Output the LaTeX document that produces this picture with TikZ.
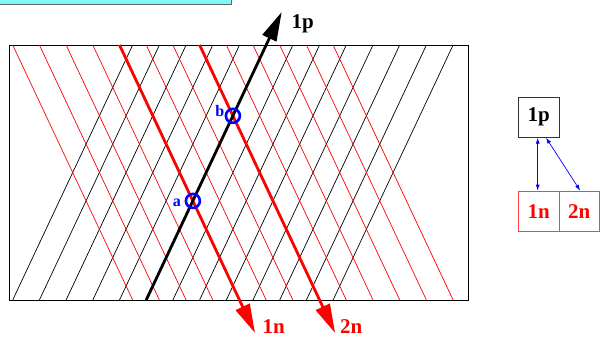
\documentclass[tikz,border=0pt]{standalone}
\usepackage{fontspec}
\setmainfont{Liberation Serif}
\usetikzlibrary{arrows.meta}
\definecolor{boxcyan}{RGB}{128,248,248}
\definecolor{linered}{RGB}{255,0,0}
\begin{document}
\begin{tikzpicture}[x=1pt,y=-1pt,
  thinblack/.style={black,line width=0.7pt},
  thinred/.style={linered,line width=0.7pt},
  bigarrow/.style={line width=2.8pt,-{Triangle[length=29pt,width=15pt]}},
  ring/.style={circle,draw=blue,line width=2.6pt,minimum size=14pt,inner sep=0pt},
  lbl/.style={font=\bfseries\fontsize{21}{21}\selectfont,inner sep=0pt,anchor=base west},
  small/.style={font=\bfseries\fontsize{16}{16}\selectfont,text=blue,inner sep=0pt},
  pbox/.style={draw=black!80,line width=0.8pt,minimum width=41pt,minimum height=40pt,inner sep=0pt,font=\bfseries\fontsize{21}{21}\selectfont},
  nbox/.style={draw=linered!75,line width=0.8pt,minimum width=40.5pt,minimum height=40.5pt,inner sep=0pt,text=linered,font=\bfseries\fontsize{21}{21}\selectfont},
  biarrow/.style={blue,line width=0.7pt,{Latex[length=6pt,width=4pt]}-{Latex[length=6pt,width=4pt]}}]
\useasboundingbox (0,0) rectangle (601,337);
% cyan box at top left
\draw[fill=boxcyan,draw=black!60,line width=0.8pt] (-3,-3) rectangle (231,4);
% frame
\draw[black,line width=0.9pt] (9.5,45) rectangle (468.5,300);
% thin lines
\foreach \k in {0,1,2,3,4,6,7,8,9,10,11,12}
  \draw[thinblack] ({12.7+26.7*\k},300) -- ({132.7+26.7*\k},45);
\foreach \k in {0,1,2,3,5,6,8,9,10,11,12}
  \draw[thinred] ({12.7+26.7*\k},45) -- ({132.7+26.7*\k},300);
% thick arrows
\coordinate (pstart) at (146.2,300);
\coordinate (ptip) at (281.7,12);
\coordinate (n1start) at (119.5,45);
\coordinate (n1tip) at (255,333);
\coordinate (n2start) at (199.6,45);
\coordinate (n2tip) at (335.1,333);
\draw[bigarrow,linered] (n1start) -- (n1tip);
\draw[bigarrow,linered] (n2start) -- (n2tip);
\draw[bigarrow,black] (pstart) -- (ptip);
% labels
\node[lbl] (l1p) at (291.5,28.3) {1p};
\node[lbl,text=linered] (l1n) at (262.5,333.3) {1n};
\node[lbl,text=linered] (l2n) at (340,333.3) {2n};
% rings
\node[ring] (ca) at (192.9,200.9) {};
\node[ring] (cb) at (232.9,115.8) {};
\node[small,anchor=base east] (la) at (181,206.5) {a};
\node[small,anchor=base east] (lb) at (224.5,116.5) {b};
% right diagram
\node[pbox] (p1) at (538.7,117.3) {1p};
\node[nbox] (n1) at (538.7,211.3) {1n};
\node[nbox] (n2) at (579.2,211.3) {2n};
\draw[biarrow] ([xshift=-1pt]p1.south) -- ([xshift=-1pt]n1.north);
\draw[biarrow] ([xshift=7.3pt]p1.south) -- ([xshift=1pt]n2.north);
\end{tikzpicture}
\end{document}
